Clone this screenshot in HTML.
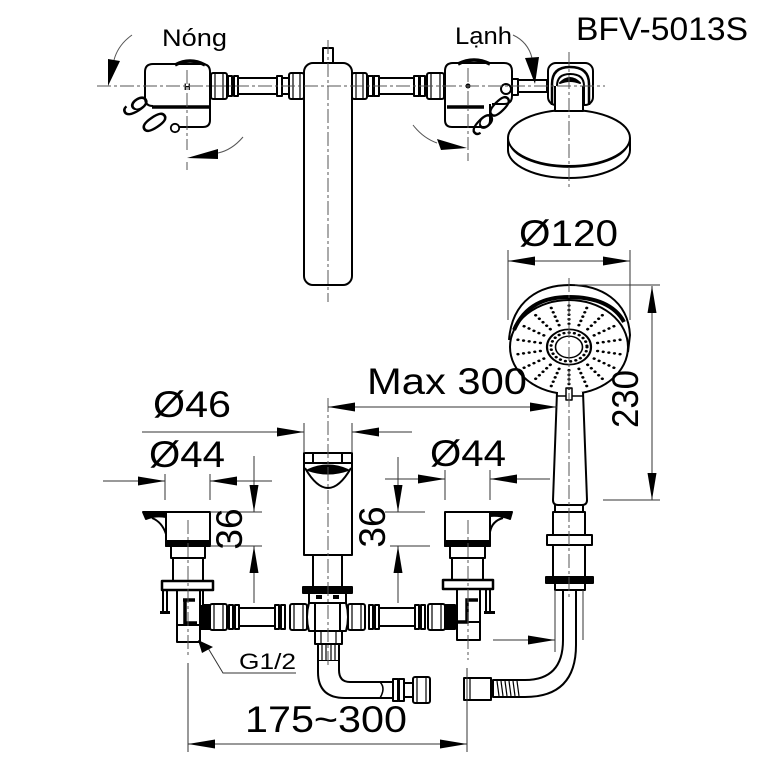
<!DOCTYPE html>
<html><head><meta charset="utf-8"><style>
html,body{margin:0;padding:0;background:#fff;}
svg{display:block;}
text{font-family:"Liberation Sans",Arial,sans-serif;fill:#000;}
</style></head><body>
<svg width="768" height="768" viewBox="0 0 768 768" xmlns="http://www.w3.org/2000/svg">
<defs>
<marker id="ar" markerWidth="28" markerHeight="10" refX="27" refY="4.5" orient="auto" markerUnits="userSpaceOnUse"><path d="M0,0 L27,4.5 L0,9 Z" fill="#000"/></marker>
</defs>
<rect width="768" height="768" fill="#fff"/>

<!-- ================= TOP VIEW ================= -->
<g stroke="#000" stroke-width="2" fill="#fff" stroke-linejoin="round">
  <!-- left pipes -->
  <rect x="211" y="73" width="16" height="26" rx="2"/>
  <rect x="228" y="76" width="4" height="20"/><rect x="234" y="76" width="4" height="20"/>
  <rect x="238" y="78" width="39" height="16"/>
  <rect x="277" y="76" width="5" height="20"/>
  <rect x="282" y="78" width="7" height="16"/>
  <rect x="289" y="73" width="15" height="26" rx="2"/>
  <!-- right pipes -->
  <rect x="352" y="73" width="15" height="26" rx="2"/>
  <rect x="368" y="76" width="5" height="20"/><rect x="374" y="76" width="5" height="20"/>
  <rect x="379" y="78" width="35" height="16"/>
  <rect x="414" y="76" width="5" height="20"/><rect x="420" y="76" width="5" height="20"/>
  <rect x="427" y="73" width="17" height="26" rx="2"/>
  <!-- spout top -->
  <rect x="323" y="48" width="10" height="15"/>
  <rect x="304" y="63" width="48" height="222" rx="9"/>
  <!-- left valve -->
  <path d="M153,64 H202 Q210,64 210,72 V120 Q210,127 203,127 H175" fill="none"/>
  <path d="M153,64 Q145,64 145,72 V98 Q145,106 153,106" fill="none"/>
  <path d="M152,107 H209" fill="none" stroke-width="3.5"/>
  <path d="M175,65 Q190,57 205,65" stroke-width="3.5" fill="none"/>
  <!-- right valve -->
  <path d="M453,63 H504 Q512,63 512,71 V96 Q512,104 504,104 H492" fill="none"/>
  <path d="M453,63 Q445,63 445,71 V120 Q445,127 452,127 H484 Q490,127 490,120 V104" fill="none"/>
  <path d="M447,107 H484" fill="none" stroke-width="3.5"/>
  <path d="M458,64 Q474,56 490,64" stroke-width="3.5" fill="none"/>
  <circle cx="506" cy="89" r="5"/>
  <!-- right fittings -->
  <rect x="512" y="79" width="6" height="16"/>
  <rect x="518" y="80" width="29" height="12"/>
  <!-- disk -->
  <path d="M508,138 V150 A61,28 0 0 0 630,150 V138"/>
  <ellipse cx="569" cy="138" rx="61" ry="28"/>
  <path d="M510,145 A60,27 0 0 0 628,145" fill="none" stroke-width="1.5"/>
  <!-- bracket -->
  <rect x="548" y="63" width="45" height="42" rx="8"/>
  <path d="M552,105 V84 Q552,67 570,67 Q589,67 589,84 V105" stroke-width="2.5" fill="none"/>
  <path d="M557,105 V86 Q557,74 570,74 Q584,74 584,86 V105" fill="none"/>
  <path d="M555,86 V111 H583 V86" />
  <path d="M560,83 Q570,73 580,83 Q570,79 560,83 Z" fill="#000"/>
</g>
<!-- nut detail lines top -->
<g stroke="#000" stroke-width="1.2">
  <line x1="215" y1="73" x2="215" y2="99"/><line x1="223" y1="73" x2="223" y2="99"/>
  <line x1="293" y1="73" x2="293" y2="99"/><line x1="300" y1="73" x2="300" y2="99"/>
  <line x1="356" y1="73" x2="356" y2="99"/><line x1="363" y1="73" x2="363" y2="99"/>
  <line x1="431" y1="73" x2="431" y2="99"/><line x1="440" y1="73" x2="440" y2="99"/>
</g>
<circle cx="468" cy="86" r="2.5" fill="#000"/>
<text x="184" y="90" font-size="9" font-weight="bold">H</text>

<!-- 90 degree marks -->
<text transform="translate(136,106) rotate(58) scale(0.72,1)" text-anchor="middle" dy="0.36em" font-size="38">9</text>
<text transform="translate(155,122) rotate(56) scale(0.72,1)" text-anchor="middle" dy="0.36em" font-size="38">0</text>
<circle cx="175" cy="128" r="4.2" fill="#fff" stroke="#000" stroke-width="1.8"/>
<text transform="translate(483,124) rotate(45) scale(-0.72,1)" text-anchor="middle" dy="0.36em" font-size="36">9</text>
<text transform="translate(500,106) rotate(45) scale(-0.72,1)" text-anchor="middle" dy="0.36em" font-size="36">0</text>

<!-- rotation arrows -->
<g stroke="#555" stroke-width="1" fill="none">
  <path d="M132,35 Q118,45 114,60"/>
  <path d="M243,137 Q232,150 218,153"/>
  <path d="M513,35 Q528,42 532,58"/>
  <path d="M413,125 Q423,138 437,143"/>
  <line x1="187" y1="162" x2="187" y2="170"/>
  <line x1="468" y1="153" x2="468" y2="161"/>
</g>
<g fill="#000">
  <polygon points="108,59 120,61 108,86"/>
  <polygon points="218,149 218,159 187,158"/>
  <polygon points="525,58 539,57 535,84"/>
  <polygon points="437,139 441,150 467,148"/>
</g>

<!-- ================= FRONT VIEW ================= -->
<g stroke="#000" stroke-width="2" fill="#fff" stroke-linejoin="round">
  <!-- front pipes -->
  <rect x="200" y="605" width="10" height="24" fill="#000"/>
  <rect x="210" y="604" width="17" height="26" rx="2"/>
  <rect x="229" y="605" width="4" height="24"/><rect x="235" y="605" width="4" height="24"/>
  <rect x="239" y="608" width="36" height="18"/>
  <rect x="275" y="605" width="4" height="24"/><rect x="281" y="605" width="4" height="24"/>
  <rect x="290" y="604" width="17" height="26" rx="2"/>
  <rect x="348" y="604" width="17" height="26" rx="2"/>
  <rect x="369" y="605" width="4" height="24"/><rect x="375" y="605" width="4" height="24"/>
  <rect x="379" y="608" width="36" height="18"/>
  <rect x="415" y="605" width="4" height="24"/><rect x="421" y="605" width="4" height="24"/>
  <rect x="428" y="604" width="17" height="26" rx="2"/>
  <rect x="445" y="605" width="10" height="24" fill="#000"/>

  <!-- left valve -->
  <rect x="171" y="546" width="34" height="12"/>
  <rect x="173" y="558" width="30" height="23"/>
  <rect x="163" y="590" width="4" height="22"/>
  <rect x="199" y="590" width="4" height="16"/>
  <rect x="177" y="590" width="23" height="35"/>
  <rect x="177" y="625" width="23" height="17"/>
  <rect x="162" y="581" width="51" height="9" stroke-width="2.5"/>
  <rect x="166" y="512" width="44" height="34"/>
  <rect x="166" y="541" width="44" height="5" fill="#000"/>
  <path d="M143,512 L166,512 L166,517 Q155,515 146,519 Z" fill="#000"/>
  <path d="M152,518 Q162,522 166,534" fill="none"/>

  <!-- right valve -->
  <rect x="450" y="546" width="35" height="12"/>
  <rect x="452" y="558" width="31" height="22"/>
  <rect x="486" y="589" width="4" height="23"/>
  <rect x="457" y="589" width="23" height="33"/>
  <rect x="457" y="622" width="23" height="18"/>
  <rect x="443" y="580" width="50" height="9" stroke-width="2.5"/>
  <rect x="445" y="512" width="45" height="34"/>
  <rect x="445" y="541" width="45" height="5" fill="#000"/>
  <path d="M512,512 L490,512 L490,516 Q500,515 510,519 Z" fill="#000"/>
  <path d="M503,518 Q492,521 490,532" fill="none"/>

  <!-- spout -->
  <line x1="313" y1="555" x2="313" y2="588"/>
  <line x1="342" y1="555" x2="342" y2="588"/>
  <rect x="304" y="453" width="48" height="102"/>
  <line x1="304" y1="463" x2="352" y2="463"/>
  <line x1="313" y1="453" x2="313" y2="463"/>
  <line x1="342" y1="453" x2="342" y2="463"/>
  <path d="M308,470 Q328,461 348,470 Q328,477 308,470 Z" fill="#000"/>
  <path d="M305,468 Q328,508 351,468" fill="none"/>
  <rect x="303" y="587" width="49" height="6" fill="#000"/>
  <rect x="309" y="593" width="37" height="10"/>
  <path d="M309,603 Q305,617 309,631 H346 Q350,617 346,603 Z"/>
  <line x1="315" y1="603" x2="315" y2="631"/><line x1="340" y1="603" x2="340" y2="631"/>
  <rect x="315" y="631" width="27" height="13"/>
  <rect x="318" y="644" width="21" height="17"/>
  <!-- spout hose -->
  <path d="M318,661 V672 Q318,698 345,698 H393 V682 H350 Q339,682 339,670 V661" />
  <path d="M380,682 Q386,688 380,698" fill="none" stroke-width="1.5"/>
  <rect x="393" y="679" width="5" height="22"/><rect x="399" y="679" width="5" height="22"/>
  <rect x="404" y="683" width="9" height="14"/>
  <rect x="413" y="677" width="17" height="26" rx="2"/>

  <!-- handshower neck & hose -->
  <path d="M563,590 V640 Q563,680 525,680 H493 V697 H525 Q576,697 576,645 V590" />
  <rect x="464" y="678" width="27" height="22"/>
  <rect x="555" y="502" width="28" height="10"/>
  <rect x="553" y="512" width="32" height="23"/>
  <rect x="553" y="545" width="32" height="32"/>
  <rect x="547" y="535" width="45" height="10"/>
  <rect x="546" y="577" width="47" height="6" fill="#000"/>
  <rect x="555" y="583" width="30" height="7"/>

  <!-- handshower head -->
  <path d="M509,340 C512,300 540,285 570,285 C600,285 628,300 630,335 L628,352"/>
  <ellipse cx="569" cy="347" rx="59" ry="47"/>
  <path d="M514,330 C525,305 545,297 569,297 C595,297 615,305 624,322" fill="none" stroke-width="4"/>
  <path d="M557,392 L553,500 Q553,505 558,505 L582,505 Q587,505 587,500 L583,392"/>
  <line x1="557" y1="396" x2="583" y2="396" stroke-width="1.5"/>
  <rect x="566" y="388" width="6" height="12" stroke-width="1.5"/>
</g>
<!-- detail thin lines front -->
<g stroke="#000" stroke-width="1.2">
  <line x1="214" y1="604" x2="214" y2="630"/><line x1="223" y1="604" x2="223" y2="630"/>
  <line x1="294" y1="604" x2="294" y2="630"/><line x1="303" y1="604" x2="303" y2="630"/>
  <line x1="352" y1="604" x2="352" y2="630"/><line x1="361" y1="604" x2="361" y2="630"/>
  <line x1="432" y1="604" x2="432" y2="630"/><line x1="441" y1="604" x2="441" y2="630"/>
  <line x1="321" y1="631" x2="321" y2="644"/><line x1="336" y1="631" x2="336" y2="644"/>
  <line x1="322" y1="644" x2="322" y2="661"/><line x1="326" y1="644" x2="326" y2="661"/>
  <line x1="331" y1="644" x2="331" y2="661"/><line x1="335" y1="644" x2="335" y2="661"/>
  <line x1="417" y1="677" x2="417" y2="703"/><line x1="426" y1="677" x2="426" y2="703"/>
  <line x1="470" y1="678" x2="470" y2="700"/>
  <line x1="497" y1="681" x2="499" y2="696"/><line x1="501" y1="681" x2="503" y2="696"/>
  <line x1="505" y1="681" x2="507" y2="696"/><line x1="509" y1="681" x2="511" y2="696"/>
  <line x1="513" y1="681" x2="515" y2="696"/><line x1="517" y1="681" x2="519" y2="696"/>
</g>
<g fill="#000">
  <rect x="160" y="611" width="10" height="3"/>
  <rect x="484" y="611" width="11" height="3"/>
  <rect x="316" y="595" width="6" height="4"/><rect x="333" y="595" width="6" height="4"/>
</g>
<path d="M183,600 H195 M185,600 V623 H197" stroke="#000" stroke-width="3.5" fill="none"/>
<path d="M478,600 H467 V622 H455" stroke="#000" stroke-width="3.5" fill="none"/>

<!-- shower face dots -->
<g transform="translate(569,347) scale(1,0.8)" fill="none" stroke="#000">
  <g stroke-width="3.2" stroke-linecap="round" stroke-dasharray="0.1 5.6">
    <line x1="0" y1="-29" x2="0" y2="-53" transform="rotate(0)"/>
    <line x1="0" y1="-29" x2="0" y2="-53" transform="rotate(20)"/>
    <line x1="0" y1="-29" x2="0" y2="-53" transform="rotate(40)"/>
    <line x1="0" y1="-29" x2="0" y2="-53" transform="rotate(60)"/>
    <line x1="0" y1="-29" x2="0" y2="-53" transform="rotate(80)"/>
    <line x1="0" y1="-29" x2="0" y2="-53" transform="rotate(100)"/>
    <line x1="0" y1="-29" x2="0" y2="-53" transform="rotate(120)"/>
    <line x1="0" y1="-29" x2="0" y2="-53" transform="rotate(140)"/>
    <line x1="0" y1="-29" x2="0" y2="-53" transform="rotate(160)"/>
    <line x1="0" y1="-29" x2="0" y2="-53" transform="rotate(180)"/>
    <line x1="0" y1="-29" x2="0" y2="-53" transform="rotate(200)"/>
    <line x1="0" y1="-29" x2="0" y2="-53" transform="rotate(220)"/>
    <line x1="0" y1="-29" x2="0" y2="-53" transform="rotate(240)"/>
    <line x1="0" y1="-29" x2="0" y2="-53" transform="rotate(260)"/>
    <line x1="0" y1="-29" x2="0" y2="-53" transform="rotate(280)"/>
    <line x1="0" y1="-29" x2="0" y2="-53" transform="rotate(300)"/>
    <line x1="0" y1="-29" x2="0" y2="-53" transform="rotate(320)"/>
    <line x1="0" y1="-29" x2="0" y2="-53" transform="rotate(340)"/>
    <circle r="18" stroke-dasharray="0.1 5.2"/>
  </g>
  <circle r="22" stroke-width="2.2"/>
  <circle r="13.5" stroke-width="1.6"/>
</g>

<!-- ================= CENTERLINES ================= -->
<g stroke="#555" stroke-width="1" stroke-dasharray="14,3,3,3" fill="none">
  <line x1="97" y1="86" x2="605" y2="86"/>
  <line x1="187" y1="70" x2="187" y2="150"/>
  <line x1="328" y1="40" x2="328" y2="302"/>
  <line x1="468" y1="68" x2="468" y2="150"/>
  <line x1="569" y1="52" x2="569" y2="188"/>
  <line x1="188" y1="520" x2="188" y2="655"/>
  <line x1="328" y1="398" x2="328" y2="665"/>
  <line x1="468" y1="520" x2="468" y2="660"/>
  <line x1="569" y1="278" x2="569" y2="600"/>
</g>

<!-- ================= DIMENSIONS ================= -->
<g stroke="#333" stroke-width="1" fill="none">
  <!-- Ø120 -->
  <line x1="508" y1="250" x2="508" y2="320"/><line x1="630" y1="250" x2="630" y2="320"/>
  <line x1="569" y1="261" x2="508" y2="261" marker-end="url(#ar)"/>
  <line x1="569" y1="261" x2="630" y2="261" marker-end="url(#ar)"/>
  <!-- 230 -->
  <line x1="575" y1="285" x2="660" y2="285"/><line x1="603" y1="500" x2="660" y2="500"/>
  <line x1="652" y1="393" x2="652" y2="286" marker-end="url(#ar)"/>
  <line x1="652" y1="393" x2="652" y2="500" marker-end="url(#ar)"/>
  <!-- Max 300 -->
  <line x1="440" y1="407" x2="328" y2="407" marker-end="url(#ar)"/>
  <line x1="440" y1="407" x2="557" y2="407" marker-end="url(#ar)"/>
  <!-- Ø46 -->
  <line x1="304" y1="423" x2="304" y2="453"/><line x1="352" y1="423" x2="352" y2="453"/>
  <line x1="142" y1="432" x2="304" y2="432" marker-end="url(#ar)"/>
  <line x1="412" y1="432" x2="352" y2="432" marker-end="url(#ar)"/>
  <!-- Ø44 left -->
  <line x1="165" y1="474" x2="165" y2="500"/><line x1="210" y1="474" x2="210" y2="500"/>
  <line x1="103" y1="481" x2="165" y2="481" marker-end="url(#ar)"/>
  <line x1="272" y1="481" x2="210" y2="481" marker-end="url(#ar)"/>
  <!-- Ø44 right -->
  <line x1="445" y1="470" x2="445" y2="500"/><line x1="490" y1="470" x2="490" y2="500"/>
  <line x1="385" y1="479" x2="445" y2="479" marker-end="url(#ar)"/>
  <line x1="550" y1="479" x2="490" y2="479" marker-end="url(#ar)"/>
  <!-- 36 left -->
  <line x1="210" y1="512" x2="262" y2="512"/><line x1="210" y1="546" x2="262" y2="546"/>
  <line x1="254" y1="456" x2="254" y2="512" marker-end="url(#ar)"/>
  <line x1="254" y1="603" x2="254" y2="546" marker-end="url(#ar)"/>
  <!-- 36 middle -->
  <line x1="385" y1="512" x2="425" y2="512"/><line x1="390" y1="546" x2="430" y2="546"/>
  <line x1="398" y1="457" x2="398" y2="512" marker-end="url(#ar)"/>
  <line x1="398" y1="603" x2="398" y2="546" marker-end="url(#ar)"/>
  <!-- hose -->
  <line x1="555" y1="590" x2="555" y2="652"/><line x1="583" y1="590" x2="583" y2="640"/>
  <line x1="493" y1="640" x2="555" y2="640" marker-end="url(#ar)"/>
  <!-- 175~300 -->
  <line x1="188" y1="663" x2="188" y2="752"/><line x1="467" y1="668" x2="467" y2="752"/>
  <line x1="328" y1="744" x2="188" y2="744" marker-end="url(#ar)"/>
  <line x1="328" y1="744" x2="467" y2="744" marker-end="url(#ar)"/>
  <!-- G1/2 leader -->
  <polyline points="296,673 223,673 208,648"/>
</g>
<polygon points="198,640 202,653 213,647" fill="#000"/>

<!-- ================= TEXT ================= -->
<text x="162" y="46" font-size="24" textLength="65" lengthAdjust="spacingAndGlyphs">Nóng</text>
<text x="455" y="44" font-size="24" textLength="57" lengthAdjust="spacingAndGlyphs">Lạnh</text>
<text x="576" y="40" font-size="32" textLength="172" lengthAdjust="spacingAndGlyphs">BFV-5013S</text>
<text x="519" y="246" font-size="37" textLength="99" lengthAdjust="spacingAndGlyphs">Ø120</text>
<text x="367" y="394" font-size="37" textLength="160" lengthAdjust="spacingAndGlyphs">Max 300</text>
<text x="153" y="417" font-size="37" textLength="78" lengthAdjust="spacingAndGlyphs">Ø46</text>
<text x="149" y="467" font-size="37" textLength="76" lengthAdjust="spacingAndGlyphs">Ø44</text>
<text x="430" y="466" font-size="37" textLength="76" lengthAdjust="spacingAndGlyphs">Ø44</text>
<text transform="translate(242,529) rotate(-90)" text-anchor="middle" font-size="37">36</text>
<text transform="translate(385,527) rotate(-90)" text-anchor="middle" font-size="37">36</text>
<text transform="translate(638,399) rotate(-90)" text-anchor="middle" font-size="37" textLength="58" lengthAdjust="spacingAndGlyphs">230</text>
<text x="239" y="669" font-size="22" textLength="57" lengthAdjust="spacingAndGlyphs">G1/2</text>
<text x="245" y="732" font-size="37" textLength="162" lengthAdjust="spacingAndGlyphs">175~300</text>
</svg>
</body></html>
